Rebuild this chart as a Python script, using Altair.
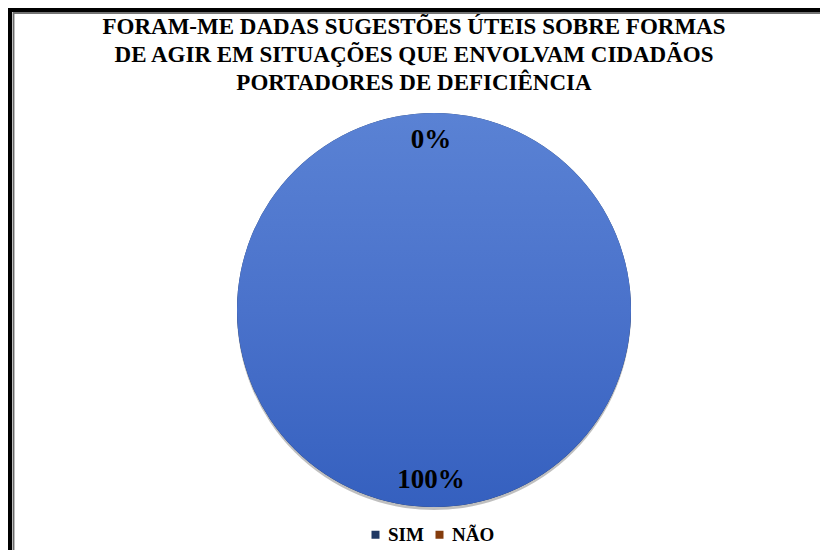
import altair as alt
import pandas as pd

categories = ["SIM", "NÃO"]
values = [100, 0]
labels = ["100%", "0%"]
order = [0, 1]

df = pd.DataFrame({"resposta": categories, "valor": values, "rotulo": labels, "ordem": order})

TITLE = ["FORAM-ME DADAS SUGESTÕES ÚTEIS SOBRE FORMAS",
         "DE AGIR EM SITUAÇÕES QUE ENVOLVAM CIDADÃOS",
         "PORTADORES DE DEFICIÊNCIA"]

CX, CY, R = 426, 214, 197
FONT = "Liberation Serif"

base = alt.Chart(df)

theta = alt.Theta("valor:Q", stack=True)

legend_arc = base.mark_arc(radius=R).encode(
    theta=theta,
    order=alt.Order("ordem:Q"),
    color=alt.Color(
        "resposta:N",
        sort=categories,
        scale=alt.Scale(domain=categories, range=["#1f3864", "#843c0c"]),
        legend=alt.Legend(
            title=None, orient="none", direction="horizontal",
            legendX=358, legendY=429,
            symbolType="square", symbolSize=64, symbolStrokeWidth=0,
            labelFont=FONT, labelFontSize=19, labelFontWeight="bold",
            labelColor="#000000", columnPadding=6, labelOffset=3,
        ),
    ),
    x=alt.value(CX), y=alt.value(CY),
)

shadow = base.mark_arc(radius=R, color="#000000", opacity=0.25).encode(
    theta=theta, order=alt.Order("ordem:Q"),
    x=alt.value(CX), y=alt.value(CY + 3),
)

grad_arc = base.mark_arc(
    radius=R,
    fill=alt.Gradient(
        gradient="linear",
        stops=[alt.GradientStop(color="#5a82d4", offset=0),
               alt.GradientStop(color="#4a72cb", offset=0.5),
               alt.GradientStop(color="#3560bf", offset=1)],
        x1=0, x2=0, y1=0, y2=1,
    ),
).encode(
    theta=theta, order=alt.Order("ordem:Q"),
    x=alt.value(CX), y=alt.value(CY),
)

text = base.mark_text(
    radius=170, font=FONT, fontSize=27, fontWeight="bold", color="#000000",
    baseline="middle", align="center",
).encode(
    theta=theta, order=alt.Order("ordem:Q"), text="rotulo:N",
    x=alt.value(CX - 3), y=alt.value(CY),
)

title = alt.Chart(pd.DataFrame({"t": [0]})).mark_text(
    text=TITLE, font=FONT, fontSize=23, fontWeight="bold", color="#000000",
    lineHeight=28, baseline="middle", align="center",
).encode(x=alt.value(406), y=alt.value(-69))

border_outer = base.mark_rect(fill=None, stroke="#000000", strokeWidth=4).encode(
    x=alt.value(2), x2=alt.value(900), y=alt.value(-86), y2=alt.value(600)
)
border_inner = base.mark_rect(fill=None, stroke="#6b6b6b", strokeWidth=1.5).encode(
    x=alt.value(5.5), x2=alt.value(900), y=alt.value(-83), y2=alt.value(460.5)
)

chart = alt.layer(legend_arc, shadow, grad_arc, text, title, border_outer, border_inner).properties(
    width=812, height=454,
    autosize=alt.AutoSizeParams(type="none"),
    padding={"top": 88, "left": 0, "right": 0, "bottom": 0},
).configure_view(stroke=None)

chart.save("out.html", embed_options={"renderer": "svg", "actions": False})
